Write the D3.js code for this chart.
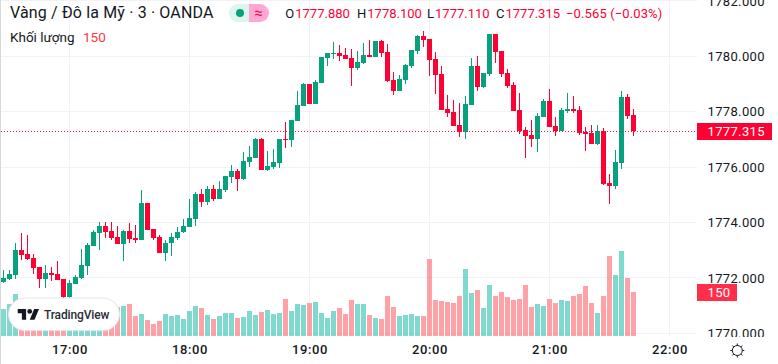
<!DOCTYPE html>
<html>
<head>
<meta charset="utf-8">
<script src="https://cdn.jsdelivr.net/npm/d3@7"></script>
<style>
  html, body { margin: 0; padding: 0; background: #fff; overflow: hidden; }
  text { font-family: Roboto, sans-serif; }
</style>
</head>
<body>
<div class="chartDiv"></div>
<script>
// 3 minute bars, first bar is 16:27
const opens = [
  1771.85,1771.96,1772.10,1773.00,1772.86,1772.71,1772.39,1771.96,1772.17,1772.14,
  1771.96,1771.31,1771.78,1771.99,1772.43,1773.15,1773.62,1773.87,1773.69,1773.47,
  1773.22,1773.69,1773.44,1773.36,1774.70,1773.76,1773.47,1772.90,1773.26,1773.44,
  1773.65,1773.83,1774.12,1775.03,1774.74,1775.21,1774.84,1775.17,1775.64,1775.86,
  1775.57,1776.18,1776.33,1777.01,1775.89,1776.00,1776.14,1777.01,1776.97,1777.66,
  1778.20,1779.00,1778.28,1779.03,1779.94,1780.08,1780.12,1780.04,1779.94,1779.57,
  1779.75,1780.04,1779.97,1780.55,1780.15,1779.14,1778.74,1779.14,1779.65,1780.19,
  1780.73,1780.62,1779.90,1779.36,1778.09,1777.99,1777.52,1777.26,1778.24,1779.65,
  1778.89,1779.36,1780.80,1780.19,1779.39,1778.96,1778.06,1777.34,1777.16,1777.01,
  1777.81,1778.38,1777.48,1777.30,1778.02,1778.09,1778.06,1777.26,1777.23,1776.83,
  1777.30,1775.42,1775.31,1776.14,1778.53,1777.88
];
const highs = [
  1772.28,1772.28,1773.26,1773.62,1773.55,1772.86,1772.39,1772.46,1772.39,1772.61,
  1771.96,1771.92,1772.10,1773.04,1773.26,1773.73,1774.01,1774.01,1774.01,1773.87,
  1773.73,1773.97,1773.91,1775.17,1774.70,1773.76,1773.55,1773.36,1773.62,1773.83,
  1774.12,1774.84,1775.10,1775.21,1775.31,1775.35,1775.50,1775.68,1776.07,1775.93,
  1776.54,1776.76,1777.05,1777.05,1776.58,1776.65,1777.01,1777.62,1777.70,1778.74,
  1779.03,1779.00,1779.14,1779.97,1780.12,1780.51,1780.40,1780.30,1780.26,1780.19,
  1780.48,1780.58,1780.55,1780.58,1780.44,1779.43,1779.32,1779.72,1780.22,1780.77,
  1780.91,1780.62,1780.15,1779.65,1778.60,1778.42,1778.31,1778.56,1779.94,1780.01,
  1779.39,1780.80,1780.80,1780.19,1779.54,1779.07,1778.67,1777.44,1777.70,1777.95,
  1778.46,1778.82,1777.81,1778.13,1778.67,1778.56,1778.20,1777.44,1777.52,1777.52,
  1777.41,1775.75,1776.61,1778.74,1778.64,1778.10
];
const lows = [
  1771.81,1771.92,1771.96,1772.64,1772.64,1772.14,1771.63,1771.63,1771.89,1771.92,
  1771.09,1771.20,1771.78,1771.96,1772.10,1773.15,1773.00,1773.44,1773.36,1773.22,
  1772.61,1773.26,1773.26,1773.36,1773.73,1773.36,1772.90,1772.61,1772.79,1773.36,
  1773.62,1773.83,1773.87,1774.56,1774.63,1774.77,1774.84,1775.10,1775.42,1775.13,
  1775.53,1776.00,1776.33,1775.89,1775.86,1775.93,1775.96,1776.69,1776.72,1777.66,
  1778.20,1778.28,1778.28,1779.03,1779.65,1779.90,1779.83,1779.90,1778.92,1779.50,
  1779.72,1779.97,1779.97,1779.97,1779.07,1778.60,1778.74,1779.00,1779.57,1780.08,
  1780.33,1779.29,1778.64,1778.06,1777.81,1777.48,1777.08,1777.01,1778.24,1778.74,
  1778.85,1779.29,1779.75,1779.25,1778.85,1778.02,1777.19,1776.33,1776.72,1776.54,
  1777.81,1777.44,1777.12,1777.30,1777.95,1777.95,1777.16,1776.58,1776.83,1776.79,
  1775.35,1774.66,1775.21,1775.93,1777.73,1777.11
];
const closes = [
  1771.99,1772.14,1773.00,1772.82,1772.68,1772.35,1771.96,1772.17,1772.10,1771.92,
  1771.31,1771.81,1772.03,1772.46,1773.18,1773.65,1773.87,1773.65,1773.44,1773.22,
  1773.69,1773.40,1773.36,1774.70,1773.73,1773.44,1772.90,1773.26,1773.47,1773.65,
  1773.87,1774.16,1775.03,1774.74,1775.21,1774.84,1775.21,1775.68,1775.86,1775.57,
  1776.22,1776.36,1777.01,1775.89,1776.04,1776.18,1777.01,1776.97,1777.70,1778.24,
  1779.00,1778.28,1779.07,1779.97,1780.12,1780.12,1780.01,1779.90,1779.57,1779.79,
  1780.04,1779.97,1780.55,1780.12,1779.10,1778.74,1779.18,1779.68,1780.22,1780.73,
  1780.58,1779.86,1779.32,1778.06,1777.95,1777.48,1777.26,1778.28,1779.65,1778.89,
  1779.39,1780.80,1780.15,1779.36,1778.92,1778.02,1777.30,1777.12,1777.01,1777.84,
  1778.38,1777.44,1777.30,1778.06,1778.09,1778.02,1777.23,1777.19,1776.83,1777.30,
  1775.39,1775.31,1776.18,1778.53,1777.84,1777.315
];
const volumes = [
  92,109,143,105,95,90,100,85,80,75,
  70,80,75,85,90,80,85,90,85,100,
  102,109,68,75,55,41,51,75,68,72,
  58,85,102,95,72,58,68,78,78,61,
  65,85,72,82,89,75,78,126,85,109,
  106,113,116,78,61,85,95,75,123,109,
  109,72,61,58,136,99,68,72,75,68,
  68,263,123,119,116,113,136,228,147,157,
  95,174,136,150,133,123,126,174,99,109,
  102,126,113,123,119,136,143,171,113,78,
  136,273,208,290,198,150
];

const priceTicks = [1770, 1772, 1774, 1776, 1778, 1780, 1782];
const hourTicks = [17, 18, 19, 20, 21, 22];

const lastPrice = 1777.315;
const lastVolume = 150;
const titleText = "Vàng / Đô la Mỹ · 3 · OANDA";
const volumeText = "Khối lượng";
const ohlcLabels = ["O", "H", "L", "C"];
const ohlcValues = [1777.880, 1778.100, 1777.110, 1777.315];
const changeText = "−0.565 (−0.03%)";

const width = 778, height = 364;
const paneRight = 697, paneBottom = 336;
const upColor = "#07a17e", downColor = "#ff0033";
const upVolume = "rgba(0,180,160,0.5)", downVolume = "rgba(255,70,80,0.5)";
const gridColor = "#f1f2f5", textColor = "#131722";

const time = h => new Date(Date.UTC(2021, 0, 4, h));
const barTime = i => new Date(Date.UTC(2021, 0, 4, 16, 27 + 3 * i));

const x = d3.scaleUtc().domain([time(17), time(22)]).range([69.5, 669.5]);
const y = d3.scaleLinear().domain([1770, 1782]).range([333.3, 0.9]);
const yVol = d3.scaleLinear().domain([0, 150]).range([paneBottom, 292]);

const svg = d3.select(".chartDiv").append("svg")
  .attr("width", width)
  .attr("height", height)
  .style("display", "block");

// clip for the price labels, the lowest one is cut by the time axis
svg.append("clipPath").attr("id", "scaleClip").append("rect")
  .attr("x", paneRight).attr("y", 0).attr("width", 81).attr("height", 337);

// grid
const grid = svg.append("g").attr("shape-rendering", "crispEdges");
grid.selectAll(".h").data(priceTicks).join("line")
  .attr("x1", 0).attr("x2", paneRight)
  .attr("y1", d => Math.floor(y(d)) + 0.5).attr("y2", d => Math.floor(y(d)) + 0.5)
  .attr("stroke", gridColor);
grid.selectAll(".v").data(hourTicks).join("line")
  .attr("x1", d => x(time(d))).attr("x2", d => x(time(d)))
  .attr("y1", 0).attr("y2", paneBottom)
  .attr("stroke", gridColor);

// volume
const bars = d3.range(volumes.length);
const isUp = i => closes[i] >= opens[i];

svg.append("g").attr("shape-rendering", "crispEdges")
  .selectAll("rect").data(bars).join("rect")
  .attr("x", i => x(barTime(i)) - 2.5)
  .attr("width", 5)
  .attr("y", i => Math.round(yVol(volumes[i])))
  .attr("height", i => paneBottom - Math.round(yVol(volumes[i])))
  .attr("fill", i => isUp(i) ? upVolume : downVolume);

// candles
const candles = svg.append("g").attr("shape-rendering", "crispEdges")
  .selectAll("g").data(bars).join("g")
  .attr("fill", i => isUp(i) ? upColor : downColor);

candles.append("rect")
  .attr("x", i => x(barTime(i)) - 0.5)
  .attr("width", 1)
  .attr("y", i => Math.round(y(highs[i])))
  .attr("height", i => Math.round(y(lows[i])) - Math.round(y(highs[i])));

candles.append("rect")
  .attr("x", i => x(barTime(i)) - 2.5)
  .attr("width", 5)
  .attr("y", i => Math.round(y(Math.max(opens[i], closes[i]))))
  .attr("height", i => Math.max(1, Math.round(y(Math.min(opens[i], closes[i]))) - Math.round(y(Math.max(opens[i], closes[i])))));

// last price line
svg.append("line")
  .attr("x1", 1).attr("x2", paneRight)
  .attr("y1", 131.5).attr("y2", 131.5)
  .attr("stroke", "#f0133f")
  .attr("stroke-dasharray", "1 2")
  .attr("shape-rendering", "crispEdges");

// left edge
svg.append("rect").attr("x", 0).attr("y", 0).attr("width", 1).attr("height", height).attr("fill", "#d9d9d9");

// price scale
const priceAxis = d3.axisRight(y)
  .tickValues(priceTicks)
  .tickFormat(d3.format(".3f"))
  .tickSize(0)
  .tickPadding(0);
const priceG = svg.append("g")
  .attr("clip-path", "url(#scaleClip)")
  .append("g")
  .attr("transform", "translate(707.5,0)")
  .call(priceAxis);
priceG.select(".domain").remove();
priceG.selectAll("text")
  .attr("font-size", 13).attr("fill", textColor).style("letter-spacing", "0.35px")
  .style("font-family", "Roboto, sans-serif");

// time scale
const timeAxis = d3.axisBottom(x)
  .tickValues(hourTicks.map(time))
  .tickFormat(d3.utcFormat("%H:%M"))
  .tickSize(0)
  .tickPadding(0);
const timeG = svg.append("g").attr("transform", "translate(0,345)").call(timeAxis);
timeG.select(".domain").remove();
timeG.selectAll("text")
  .attr("font-size", 13).attr("font-weight", 500).attr("fill", textColor)
  .style("letter-spacing", "0.6px")
  .style("font-family", "Roboto, sans-serif");

// price and volume tags
svg.append("rect").attr("x", paneRight).attr("y", 123).attr("width", 75).attr("height", 17)
  .attr("fill", downColor);
svg.append("text").attr("x", 707.5).attr("y", 136.3)
  .attr("font-size", 13).attr("fill", "#fff").style("letter-spacing", "0.35px")
  .text(d3.format(".3f")(lastPrice));
svg.append("rect").attr("x", paneRight).attr("y", 284).attr("width", 40).attr("height", 17)
  .attr("fill", "#ff2e4a");
svg.append("text").attr("x", 707.5).attr("y", 297.3)
  .attr("font-size", 13).attr("fill", "#fff").style("letter-spacing", "0.35px")
  .text(lastVolume);

// legend
svg.append("text").attr("x", 10).attr("y", 18)
  .attr("font-size", 16).attr("fill", textColor).style("letter-spacing", "0.15px").text(titleText);
svg.append("text").attr("x", 10).attr("y", 42)
  .attr("font-size", 13.5).attr("fill", textColor).text(volumeText);
svg.append("text").attr("x", 83).attr("y", 42)
  .attr("font-size", 13.5).attr("fill", "#ff3344").text(lastVolume);

svg.append("path")
  .attr("d", "M249 4H238a9 9 0 0 0 0 18H249Z")
  .attr("fill", "#dcf5ef");
svg.append("path")
  .attr("d", "M249 4H260a9 9 0 0 1 0 18H249Z")
  .attr("fill", "#ffa6d2");
svg.append("circle").attr("cx", 240).attr("cy", 13).attr("r", 4).attr("fill", "#07a17e");
svg.append("text").attr("x", 258.5).attr("y", 18).attr("text-anchor", "middle")
  .attr("font-size", 15).attr("fill", "#e0144f").text("≈");

const ohlcX = [285.3, 357, 427, 496];
ohlcLabels.forEach((label, i) => {
  const t = svg.append("text").attr("x", ohlcX[i]).attr("y", 18).attr("font-size", 13);
  t.append("tspan").attr("fill", textColor).text(label);
  t.append("tspan").attr("fill", downColor).attr("dx", 1).text(d3.format(".3f")(ohlcValues[i]));
});
svg.append("text").attr("x", 566).attr("y", 18).attr("font-size", 13).style("letter-spacing", "0.12px")
  .attr("fill", downColor).text(changeText);

// TradingView badge
svg.append("rect").attr("x", 8.5).attr("y", 298).attr("width", 111).attr("height", 32.5).attr("rx", 16)
  .attr("fill", "#fff").attr("stroke", "#e4e6ec").attr("stroke-width", 1);
const logo = svg.append("g").attr("transform", "translate(17.7,306.6) scale(0.6)").attr("fill", textColor);
logo.append("path").attr("d", "M14 22H7V11H0V4h14v18zM28 22h-8l7.5-18h8L28 22z");
logo.append("circle").attr("cx", 20).attr("cy", 8).attr("r", 4);
svg.append("text").attr("x", 44).attr("y", 319).attr("font-size", 12).attr("font-weight", 500)
  .style("letter-spacing", "-0.15px").attr("fill", "#2a2e39").text("TradingView");

// settings icon
const gear = svg.append("g").attr("transform", "translate(737.3,350.5)")
  .attr("fill", "none").attr("stroke", textColor).attr("stroke-width", 1);
gear.append("circle").attr("r", 5);
gear.selectAll("line").data(d3.range(8)).join("line")
  .attr("x1", d => 5 * Math.cos(d * Math.PI / 4))
  .attr("y1", d => 5 * Math.sin(d * Math.PI / 4))
  .attr("x2", d => 7 * Math.cos(d * Math.PI / 4))
  .attr("y2", d => 7 * Math.sin(d * Math.PI / 4));
</script>
</body>
</html>
